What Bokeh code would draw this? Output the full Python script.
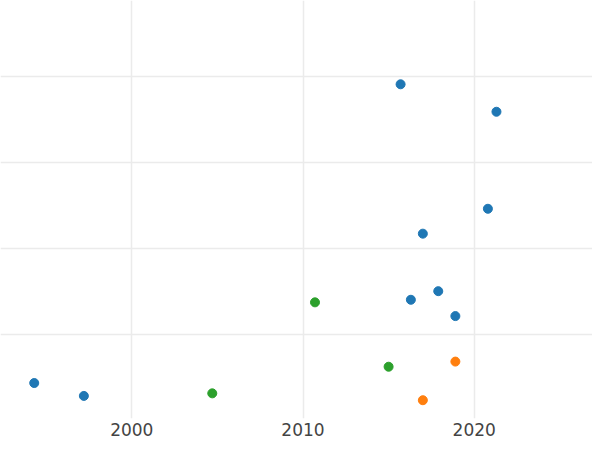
from bokeh.plotting import figure
from bokeh.models import Range1d
from bokeh.embed import file_html
from bokeh.resources import INLINE

# Data
blue_x = [1994.3, 1997.2, 2015.7, 2021.3, 2020.8, 2017.0, 2017.9, 2016.3, 2018.9]
blue_y = [0.43, 0.28, 3.91, 3.59, 2.46, 2.17, 1.50, 1.40, 1.21]
green_x = [2010.7, 2004.7, 2015.0]
green_y = [1.37, 0.31, 0.62]
orange_x = [2018.9, 2017.0]
orange_y = [0.68, 0.23]
x_ticks = [2000, 2010, 2020]
y_ticks = [1, 2, 3, 4]

p = figure(width=592, height=442, output_backend="svg", toolbar_location=None,
           x_range=Range1d(1992.33, 2026.91), y_range=Range1d(0.017, 4.886),
           min_border_left=0, min_border_right=0, min_border_top=0, min_border_bottom=24)
p.outline_line_color = None
p.background_fill_color = "white"
p.border_fill_color = "white"

p.xaxis.ticker = x_ticks
p.yaxis.ticker = y_ticks
p.yaxis.visible = False
p.xaxis.axis_line_color = None
p.xaxis.major_tick_line_color = None
p.xaxis.minor_tick_line_color = None
p.xaxis.major_tick_out = 0
p.xaxis.major_tick_in = 0
p.xaxis.major_label_standoff = 4
p.xaxis.major_label_text_font = "DejaVu Sans"
p.xaxis.major_label_text_font_size = "17px"
p.xaxis.major_label_text_color = "#444444"

p.xgrid.grid_line_color = "#ebebeb"
p.ygrid.grid_line_color = "#ebebeb"
p.xgrid.grid_line_width = 1.5
p.ygrid.grid_line_width = 1.5

p.scatter(blue_x, blue_y, size=9, color="#1f77b4")
p.scatter(green_x, green_y, size=9, color="#2ca02c")
p.scatter(orange_x, orange_y, size=9, color="#ff7f0e")

open("out.html", "w").write(file_html(p, INLINE))
